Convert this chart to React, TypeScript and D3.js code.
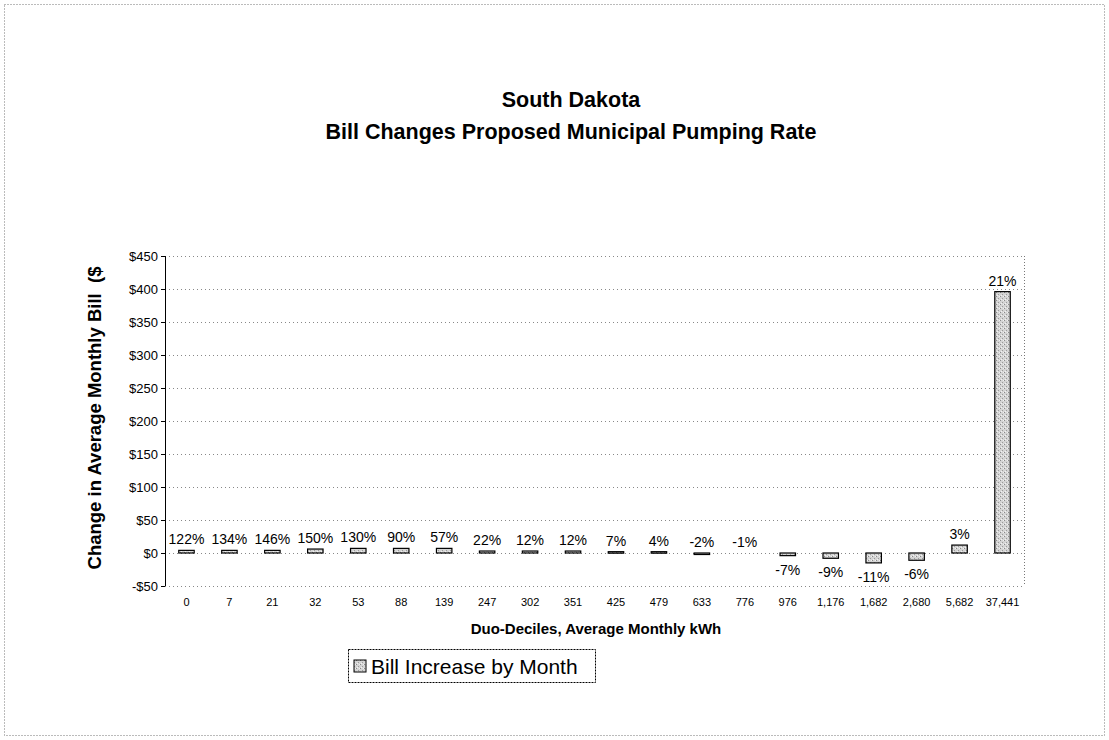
import React from "react";
import * as d3 from "d3";

// Duo-decile buckets (average monthly kWh) and the change in average monthly bill
const categories = ["0", "7", "21", "32", "53", "88", "139", "247", "302", "351", "425", "479", "633", "776", "976", "1,176", "1,682", "2,680", "5,682", "37,441"];
const billChange = [4, 4, 4, 6, 7, 7, 7, 3, 3, 3, 2, 2, -1, 0, -4, -8, -15, -11, 12, 396];
const pctLabels = ["122%", "134%", "146%", "150%", "130%", "90%", "57%", "22%", "12%", "12%", "7%", "4%", "-2%", "-1%", "-7%", "-9%", "-11%", "-6%", "3%", "21%"];
const yTicks = [-50, 0, 50, 100, 150, 200, 250, 300, 350, 400, 450];

const W = 1109;
const H = 740;
const plot = { left: 165, right: 1024, top: 256, bottom: 586 };
const FONT = "'Liberation Sans', Arial, Helvetica, sans-serif";

export default function App() {
  const x = d3
    .scaleBand<string>()
    .domain(categories)
    .range([plot.left, plot.right])
    .paddingInner(0.64)
    .paddingOuter(0.32);
  const y = d3.scaleLinear().domain([-50, 450]).range([plot.bottom, plot.top]);
  const fmt = (d: number) => (d < 0 ? `-$${-d}` : `$${d}`);

  return (
    <div style={{ position: "absolute", left: 0, top: 0 }}>
      <svg width={W} height={H} style={{ display: "block", background: "#fff" }} fontFamily={FONT}>
        <defs>
          <pattern id="stipple" width="4" height="4" patternUnits="userSpaceOnUse">
            <rect width="4" height="4" fill="#d4d4d4" />
            <rect x="0" y="0" width="1" height="1" fill="#8a8a8a" />
            <rect x="2" y="2" width="1" height="1" fill="#9a9a9a" />
            <rect x="3" y="0" width="1" height="1" fill="#f2f2f2" />
            <rect x="1" y="3" width="1" height="1" fill="#f2f2f2" />
          </pattern>
        </defs>

        {/* chart frame */}
        <rect x={4.5} y={4.5} width={W - 9} height={H - 9} fill="none" stroke="#777" strokeDasharray="1 2" />

        {/* title */}
        <text x={571} y={107} textAnchor="middle" fontSize={21.5} fontWeight="bold">South Dakota</text>
        <text x={571} y={139} textAnchor="middle" fontSize={21.5} fontWeight="bold">Bill Changes Proposed Municipal Pumping Rate</text>

        {/* gridlines */}
        {yTicks.map((t) => (
          <line key={t} x1={plot.left} x2={plot.right} y1={y(t) + 0.5} y2={y(t) + 0.5} stroke="#888" strokeDasharray="1 3" />
        ))}
        <line x1={plot.right + 0.5} x2={plot.right + 0.5} y1={plot.top} y2={plot.bottom} stroke="#777" strokeDasharray="1 2" />

        {/* y axis */}
        <line x1={plot.left + 0.5} x2={plot.left + 0.5} y1={plot.top} y2={plot.bottom} stroke="#000" />
        {yTicks.map((t) => (
          <g key={t}>
            <line x1={plot.left - 4} x2={plot.left} y1={y(t) + 0.5} y2={y(t) + 0.5} stroke="#000" />
            <text x={plot.left - 7} y={y(t) + 4.5} textAnchor="end" fontSize={13}>{fmt(t)}</text>
          </g>
        ))}
        <text
          transform={`translate(${101},${418}) rotate(-90)`}
          textAnchor="middle"
          fontSize={18.5}
          fontWeight="bold"
          style={{ whiteSpace: "pre" }}
        >
          {"Change in Average Monthly Bill  ($"}
        </text>

        {/* bars */}
        {categories.map((c, i) => {
          const v = billChange[i];
          if (v === 0) return null;
          const y0 = y(0);
          const yv = y(v);
          const top = Math.min(y0, yv);
          const h = Math.max(Math.abs(yv - y0), 1.5);
          return (
            <rect key={c} x={x(c)!} y={top} width={x.bandwidth()} height={h} fill="url(#stipple)" stroke="#000" strokeWidth={1.2} />
          );
        })}

        {/* data labels */}
        {categories.map((c, i) => {
          const v = billChange[i];
          const cx = x(c)! + x.bandwidth() / 2;
          const ly = v < -2 ? y(v) + 19 : y(Math.max(v, 0)) - 6;
          return (
            <text key={c} x={cx} y={ly} textAnchor="middle" fontSize={14}>{pctLabels[i]}</text>
          );
        })}

        {/* category labels */}
        {categories.map((c) => (
          <text key={c} x={x(c)! + x.bandwidth() / 2} y={606} textAnchor="middle" fontSize={11}>{c}</text>
        ))}
        <text x={596} y={634} textAnchor="middle" fontSize={15} fontWeight="bold">Duo-Deciles, Average Monthly kWh</text>

        {/* legend */}
        <rect x={348.5} y={649.5} width={247} height={33} fill="#fff" stroke="#000" strokeDasharray="2 1" />
        <rect x={354} y={660} width={12} height={12} fill="url(#stipple)" stroke="#000" />
        <text x={371} y={673.5} fontSize={21}>Bill Increase by Month</text>
      </svg>
    </div>
  );
}
